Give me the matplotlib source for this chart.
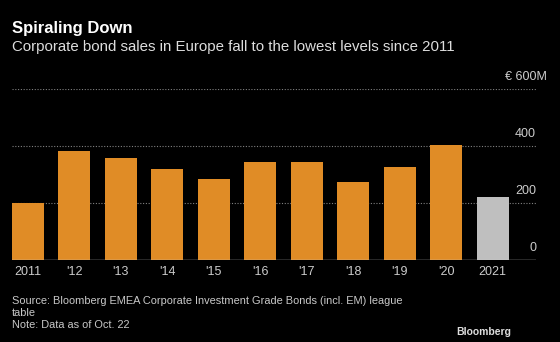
import matplotlib.pyplot as plt
from matplotlib.transforms import blended_transform_factory

# Corporate bond sales, Europe, by year
years = ['2011', "'12", "'13", "'14", "'15", "'16", "'17", "'18", "'19", "'20", '2021']
sales = [200, 383, 359, 320, 283, 343, 343, 274, 328, 405, 220]
y_ticks = [0, 200, 400, 600]
y_labels = ['0', '200', '400', '€ 600M']

orange = '#E08C26'
grey = '#BFBFBF'
bar_colors = [orange] * (len(sales) - 1) + [grey]

plt.rcParams['font.family'] = ['Liberation Sans', 'DejaVu Sans']

fig = plt.figure(figsize=(5.6, 3.42), dpi=100)
fig.patch.set_facecolor('black')

ax = fig.add_axes([12 / 560, 1 - 260 / 342, 524 / 560, 171 / 342])
ax.set_facecolor('black')

x = range(len(years))
ax.bar(x, sales, width=0.68, color=bar_colors, zorder=3)

ax.set_xlim(-0.34, 10.93)
ax.set_ylim(0, 600)

# dotted gridlines, solid baseline
for v in y_ticks[1:]:
    ax.axhline(v, color='#808080', linewidth=0.8, linestyle=(0, (1, 1.5)), zorder=1)
ax.axhline(0, color='#cccccc', linewidth=1.0, zorder=4)

# value labels sit above their gridline at the right edge
trans = blended_transform_factory(ax.transAxes, ax.transData)
for v, lab in zip(y_ticks, y_labels):
    ax.annotate(lab, xy=(1.0 if v < 600 else 1.02, v), xycoords=trans,
                xytext=(0, 4), textcoords='offset points',
                ha='right', va='bottom', color='#cccccc', fontsize=9,
                annotation_clip=False)

ax.set_xticks(list(x))
ax.set_xticklabels(years)
ax.tick_params(axis='x', length=0, pad=4, colors='#cccccc', labelsize=9)
ax.set_yticks([])
for s in ax.spines.values():
    s.set_visible(False)

fig.text(12 / 560, 1 - 28 / 342, 'Spiraling Down', color='white',
         fontsize=12, fontweight='bold', va='center', ha='left')
fig.text(12 / 560, 1 - 47 / 342,
         'Corporate bond sales in Europe fall to the lowest levels since 2011',
         color='#dddddd', fontsize=10.8, va='center', ha='left')

fig.text(12 / 560, 1 - 313 / 342,
         'Source: Bloomberg EMEA Corporate Investment Grade Bonds (incl. EM) league\ntable\nNote: Data as of Oct. 22',
         color='#c8c8c8', fontsize=7.9, va='center', ha='left', linespacing=1.25)

fig.text(511 / 560, 1 - 332 / 342, 'Bloomberg', color='#dddddd',
         fontsize=7.5, fontweight='bold', va='center', ha='right')

fig.savefig('out.png', dpi=100, facecolor='black')
